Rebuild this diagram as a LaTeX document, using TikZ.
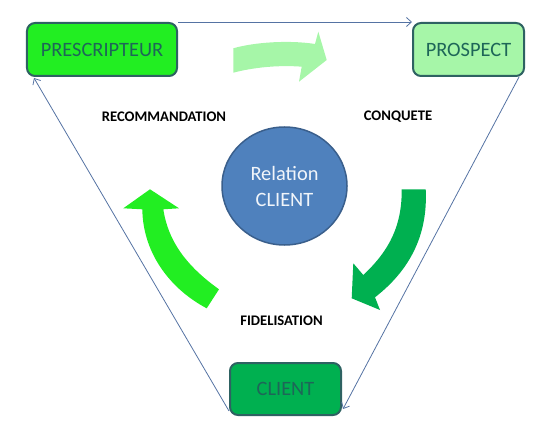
\documentclass[tikz,border=0pt]{standalone}
\usepackage{fontspec}
\setmainfont{Carlito}
\usetikzlibrary{arrows.meta,shapes.geometric}
\definecolor{brightgreen}{HTML}{22EE22}
\definecolor{lightgreen}{HTML}{A6F6A8}
\definecolor{darkgreen}{HTML}{00B050}
\definecolor{boxborder}{HTML}{2E6262}
\definecolor{boxtext}{HTML}{1E6658}
\definecolor{circfill}{HTML}{4F81BD}
\definecolor{circborder}{HTML}{3A5F8C}
\definecolor{connline}{HTML}{5573A3}
\tikzset{
  box/.style={draw=boxborder, line width=2bp, rounded corners=8bp, minimum height=53bp,
    inner sep=0pt, text=boxtext, font=\fontsize{20.4bp}{24bp}\selectfont},
  lbl/.style={inner sep=0pt, font=\fontsize{14.65bp}{17bp}\selectfont\bfseries},
  conn/.style={draw=connline, line width=0.8bp, -{Straight Barb[length=5bp,width=9bp]}},
  bigarrow/.style={draw=none},
}
\begin{document}
\begin{tikzpicture}[x=1bp,y=-1bp]
\useasboundingbox (0,0) rectangle (551,434);
% boxes
\node[box, fill=brightgreen, minimum width=150bp] (pres) at (102,49.5) {PRESCRIPTEUR};
\node[box, fill=lightgreen, minimum width=111bp] (prosp) at (468.5,49.5) {PROSPECT};
\node[box, fill=darkgreen, minimum width=111bp, minimum height=52bp] (client) at (285.5,389) {CLIENT};
% centre circle
\node[ellipse, draw=circborder, line width=1.5bp, fill=circfill, minimum width=125bp, minimum height=118bp,
  text=white!92!circfill, align=center, inner sep=0pt,
  font=\fontsize{20.4bp}{26bp}\selectfont] (rel) at (284.5,186) {Relation\\CLIENT};
% labels
\node[lbl] (reco) at (164,117) {RECOMMANDATION};
\node[lbl] (conq) at (398,117) {CONQUETE};
\node[lbl] (fid) at (281.5,321) {FIDELISATION};
% connectors
\draw[conn] (pres.north east) -- (prosp.north west);
\draw[conn] ([xshift=-6bp]prosp.south east) -- ([xshift=1bp,yshift=7bp]client.south east);
\draw[conn] ([yshift=5bp]client.south west) -- ([xshift=8bp,yshift=-1bp]pres.south west);
% big curved arrows
\fill[lightgreen] (233.3,48.3) .. controls (255,42) and (290,40) .. (315,44)
  -- (318.3,31.7) -- (326.7,60) -- (299,81.7) -- (301.7,66.7)
  .. controls (280,65) and (255,67) .. (233.3,72.7) -- cycle;
\fill[darkgreen] (401.7,189.3) -- (425.7,189.3) .. controls (428,235) and (410,270) .. (375,297.3)
  -- (380,310) -- (351.7,298.3) -- (353.3,263.3) -- (363.3,275)
  .. controls (390,250) and (402,225) .. (401.7,189.3) -- cycle;
\fill[brightgreen] (150,189.3) -- (179,208.3) -- (163.3,209.3)
  .. controls (168,240) and (185,265) .. (219,289.3) -- (206.7,308.3)
  .. controls (172,290) and (143,255) .. (142.3,209.3) -- (123.3,208.3) -- cycle;
\end{tikzpicture}
\end{document}
